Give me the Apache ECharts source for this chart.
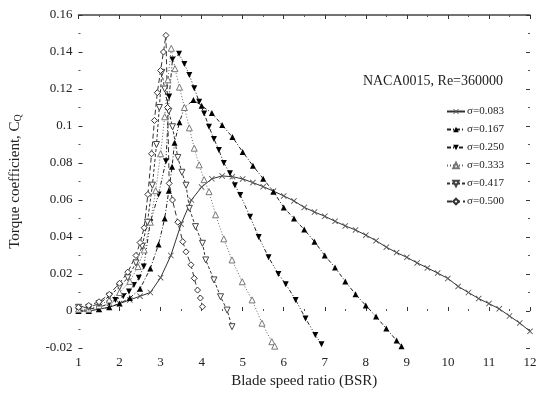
<!DOCTYPE html>
<html>
<head>
<meta charset="utf-8">
<script src="https://cdn.jsdelivr.net/npm/echarts@6/dist/echarts.min.js"></script>
<style>
  html, body { margin: 0; padding: 0; background: #fff; }
  #chart { width: 542px; height: 400px; }
</style>
</head>
<body>
<div id="chart"></div>
<script>
// Torque coefficient vs blade speed ratio, NACA0015 at Re=360000, one curve per solidity.
// [BSR, CQ] pairs.
const solidity = ["σ=0.083", "σ=0.167", "σ=0.250", "σ=0.333", "σ=0.417", "σ=0.500"];

const cq083 = [
  [1.0, 0.000], [1.25, 0.000], [1.5, 0.001], [1.75, 0.002], [2.0, 0.004], [2.25, 0.006],
  [2.5, 0.008], [2.75, 0.010], [3.0, 0.018], [3.25, 0.030], [3.5, 0.047], [3.75, 0.060],
  [4.0, 0.067], [4.25, 0.0715], [4.5, 0.073], [4.75, 0.0726], [5.0, 0.0714], [5.25, 0.0694],
  [5.5, 0.0672], [5.75, 0.0648], [6.0, 0.0622], [6.25, 0.0595], [6.5, 0.056], [6.75, 0.0535],
  [7.0, 0.0512], [7.25, 0.0485], [7.5, 0.046], [7.75, 0.0438], [8.0, 0.041], [8.25, 0.038],
  [8.5, 0.0345], [8.75, 0.0316], [9.0, 0.029], [9.25, 0.026], [9.5, 0.0233], [9.75, 0.0205],
  [10.0, 0.0176], [10.25, 0.0133], [10.5, 0.010], [10.75, 0.0067], [11.0, 0.004], [11.25, 0.0012],
  [11.5, -0.0027], [11.75, -0.0065], [12.0, -0.011]
];

const cq167 = [
  [1.0, 0.000], [1.25, 0.000], [1.5, 0.001], [1.75, 0.002], [2.0, 0.004], [2.25, 0.007],
  [2.5, 0.012], [2.75, 0.023], [2.95, 0.036], [3.1, 0.050], [3.2, 0.065], [3.28, 0.078],
  [3.34, 0.091], [3.46, 0.102], [3.58, 0.110], [3.8, 0.114], [4.0, 0.111], [4.25, 0.107],
  [4.5, 0.1005], [4.75, 0.094], [5.0, 0.086], [5.25, 0.0785], [5.5, 0.0715], [5.75, 0.0645],
  [6.0, 0.056], [6.25, 0.050], [6.5, 0.044], [6.75, 0.0375], [7.0, 0.030], [7.25, 0.0235],
  [7.5, 0.016], [7.75, 0.009], [8.0, 0.003], [8.25, -0.003], [8.5, -0.0095], [8.75, -0.016],
  [8.87, -0.019]
];

const cq250 = [
  [1.0, 0.000], [1.25, 0.001], [1.5, 0.002], [1.75, 0.004], [1.9, 0.006], [2.09, 0.008],
  [2.23, 0.0105], [2.35, 0.014], [2.47, 0.018], [2.59, 0.024], [2.75, 0.048], [2.95, 0.063],
  [3.13, 0.081], [3.21, 0.116], [3.29, 0.136], [3.45, 0.139], [3.58, 0.1335], [3.7, 0.1276],
  [3.82, 0.1204], [3.94, 0.1131], [4.06, 0.1068], [4.18, 0.0996], [4.3, 0.093], [4.42, 0.087],
  [4.54, 0.080], [4.69, 0.0744], [4.81, 0.068], [4.94, 0.0627], [5.18, 0.051], [5.39, 0.040],
  [5.63, 0.029], [5.87, 0.020], [6.05, 0.0145], [6.29, 0.006], [6.53, -0.004], [6.77, -0.013],
  [6.92, -0.018]
];

const cq333 = [
  [1.0, 0.001], [1.25, 0.001], [1.5, 0.003], [1.75, 0.006], [2.0, 0.010], [2.25, 0.016],
  [2.45, 0.024], [2.6, 0.033], [2.75, 0.048], [2.88, 0.065], [3.0, 0.085], [3.1, 0.105],
  [3.18, 0.125], [3.26, 0.142], [3.35, 0.131], [3.46, 0.121], [3.58, 0.110], [3.7, 0.099],
  [3.82, 0.088], [3.94, 0.079], [4.06, 0.071], [4.18, 0.0645], [4.34, 0.052], [4.54, 0.039],
  [4.74, 0.0276], [4.99, 0.0158], [5.23, 0.006], [5.47, -0.0066], [5.71, -0.0166], [5.78, -0.019]
];

const cq417 = [
  [1.0, 0.002], [1.25, 0.002], [1.5, 0.004], [1.75, 0.008], [2.0, 0.013], [2.2, 0.018],
  [2.4, 0.026], [2.55, 0.035], [2.68, 0.048], [2.8, 0.068], [2.9, 0.090], [2.97, 0.110],
  [3.03, 0.129], [3.1, 0.120], [3.2, 0.108], [3.29, 0.0996], [3.42, 0.083], [3.52, 0.075],
  [3.62, 0.068], [3.7, 0.0555], [3.85, 0.0456], [4.02, 0.0366], [4.1, 0.0276], [4.3, 0.0168],
  [4.46, 0.0077], [4.62, 0.0005], [4.74, -0.0085]
];

const cq500 = [
  [1.0, 0.002], [1.25, 0.003], [1.5, 0.005], [1.75, 0.009], [2.0, 0.015], [2.2, 0.021],
  [2.4, 0.030], [2.5, 0.037], [2.6, 0.045], [2.69, 0.063], [2.78, 0.085], [2.85, 0.103],
  [2.92, 0.118], [3.0, 0.130], [3.07, 0.140], [3.13, 0.149], [3.17, 0.110], [3.21, 0.069],
  [3.29, 0.060], [3.42, 0.048], [3.54, 0.0375], [3.62, 0.032], [3.74, 0.025], [3.82, 0.0177],
  [3.9, 0.0113], [3.97, 0.007], [4.02, 0.0023]
];

const xTicks = { min: 1, max: 12, interval: 1 };
const yTicks = { min: -0.02, max: 0.16, interval: 0.02 };

const SERIF = "'Liberation Serif', 'DejaVu Serif', serif";
const CROSS = "path://M0,1L1,0L5,4L9,0L10,1L6,5L10,9L9,10L5,6L1,10L0,9L4,5Z";

function makeSeries(name, data, symbol, opts) {
  return {
    name: name,
    type: "line",
    data: data,
    symbol: symbol,
    symbolSize: opts.size || 6,
    symbolRotate: opts.rotate || 0,
    z: opts.z || 2,
    lineStyle: { color: opts.line || "#222", width: 1, type: opts.dash || "solid" },
    itemStyle: {
      color: opts.fill || "#111",
      borderColor: opts.border || opts.fill || "#111",
      borderWidth: opts.open ? 1 : 0
    },
    emphasis: { disabled: true },
    animation: false
  };
}

const chart = echarts.init(document.getElementById("chart"), null, { renderer: "canvas" });

const hiddenLine = { show: false };
const tickIn = { show: true, inside: true, length: 4, lineStyle: { color: "#333" } };
const minorIn = { show: true, splitNumber: 2, length: 2, lineStyle: { color: "#555" } };

chart.setOption({
  backgroundColor: "#fff",
  animation: false,
  textStyle: { fontFamily: SERIF },
  grid: { left: 75, right: 12, top: 15, bottom: 52 },
  legend: {
    orient: "vertical",
    left: 441,
    top: 101,
    itemWidth: 18,
    itemHeight: 7,
    itemGap: 7,
    data: solidity,
    textStyle: { fontFamily: SERIF, fontSize: 11, color: "#222", padding: [0, 0, 0, -3] }
  },
  graphic: [{
    type: "text",
    right: 39,
    top: 74,
    style: { text: "NACA0015, Re=360000", font: "14px " + SERIF, fill: "#222" }
  }],
  xAxis: [{
    type: "value",
    min: xTicks.min, max: xTicks.max, interval: xTicks.interval,
    name: "Blade speed ratio (BSR)",
    nameLocation: "middle",
    nameGap: 25,
    nameTextStyle: { fontFamily: SERIF, fontSize: 15, color: "#222" },
    axisLine: hiddenLine,
    axisTick: tickIn,
    minorTick: minorIn,
    splitLine: { show: false },
    axisLabel: { fontFamily: SERIF, fontSize: 13, color: "#222", margin: 8 }
  }, {
    type: "value",
    position: "top",
    min: xTicks.min, max: xTicks.max, interval: xTicks.interval,
    axisLine: { show: true, onZero: false, lineStyle: { color: "#444", width: 1.5 } },
    axisTick: tickIn,
    minorTick: minorIn,
    splitLine: { show: false },
    axisLabel: { show: false }
  }],
  yAxis: [{
    type: "value",
    min: yTicks.min, max: yTicks.max, interval: yTicks.interval,
    name: "Torque coefficient, C{sub|Q}",
    nameLocation: "middle",
    nameRotate: 90,
    nameGap: 55,
    nameTextStyle: {
      fontFamily: SERIF, fontSize: 15, color: "#222",
      rich: { sub: { fontFamily: SERIF, fontSize: 10, color: "#222", verticalAlign: "bottom", padding: [6, 0, 0, 0] } }
    },
    axisLine: hiddenLine,
    axisTick: tickIn,
    minorTick: minorIn,
    splitLine: { show: false },
    axisLabel: {
      fontFamily: SERIF, fontSize: 13, color: "#222", margin: 6,
      formatter: function (v) { return String(+v.toFixed(2)); }
    }
  }, {
    type: "value",
    position: "right",
    min: yTicks.min, max: yTicks.max, interval: yTicks.interval,
    axisLine: hiddenLine,
    axisTick: tickIn,
    minorTick: minorIn,
    splitLine: { show: false },
    axisLabel: { show: false }
  }],
  series: [
    makeSeries(solidity[0], cq083, CROSS, { size: 6, fill: "#555", line: "#333" }),
    makeSeries(solidity[1], cq167, "triangle", { size: 6, fill: "#000", dash: [4, 2, 1, 2] }),
    makeSeries(solidity[2], cq250, "triangle", { size: 6, rotate: 180, fill: "#000", dash: [4, 2, 1, 2, 1, 2] }),
    makeSeries(solidity[3], cq333, "triangle", { size: 6, fill: "#fff", border: "#777", open: true, line: "#666", dash: [1, 2] }),
    makeSeries(solidity[4], cq417, "triangle", { size: 6, rotate: 180, fill: "#fff", border: "#444", open: true, line: "#333", dash: [3, 2] }),
    makeSeries(solidity[5], cq500, "diamond", { size: 6, fill: "#fff", border: "#333", open: true, line: "#333", dash: [5, 3] })
  ]
});
</script>
</body>
</html>
